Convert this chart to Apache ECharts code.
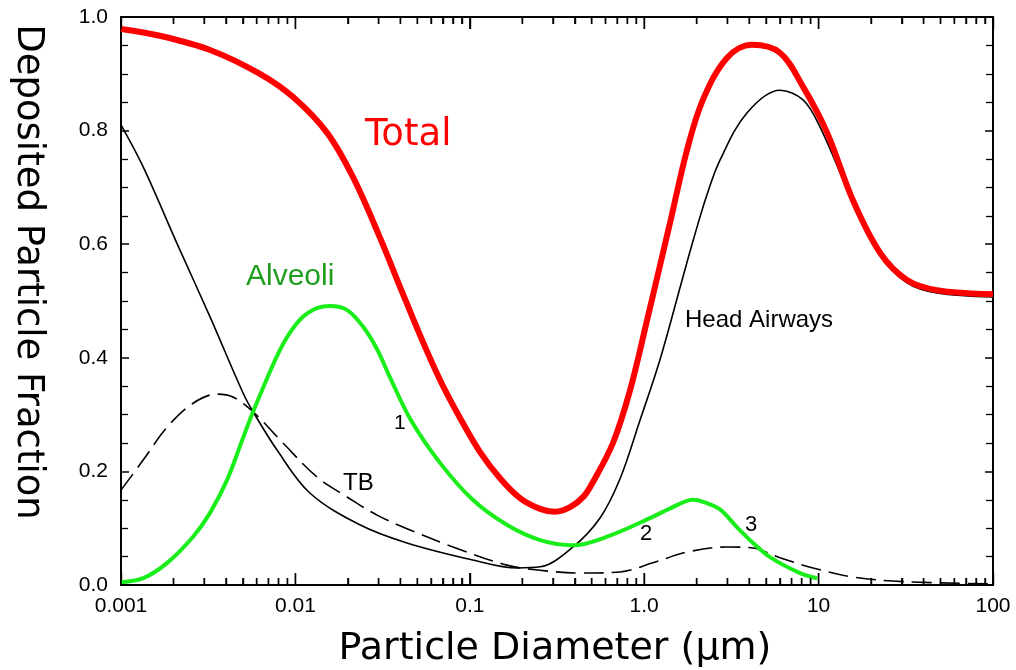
<!DOCTYPE html>
<html>
<head>
<meta charset="utf-8">
<script src="https://cdn.jsdelivr.net/npm/echarts@6/dist/echarts.min.js"></script>
<style>
  html, body { margin: 0; padding: 0; background: #fff; }
  #main { width: 1016px; height: 670px; }
</style>
</head>
<body>
<div id="main"></div>
<script>
var chartDom = document.getElementById('main');
var myChart = echarts.init(chartDom);
var option;

// particle diameter (um) -> deposited fraction
const totalData = [
  [0.001, 0.979], [0.00167, 0.967], [0.00324, 0.942], [0.00626, 0.9],
  [0.0097, 0.859], [0.0152, 0.796], [0.0214, 0.718], [0.0305, 0.612],
  [0.0398, 0.525], [0.0518, 0.44], [0.0675, 0.361], [0.0879, 0.294],
  [0.1145, 0.234], [0.149, 0.188], [0.194, 0.153], [0.253, 0.134],
  [0.308, 0.129], [0.376, 0.137], [0.45, 0.156], [0.508, 0.181],
  [0.662, 0.25], [0.83, 0.343], [1.04, 0.467], [1.41, 0.639],
  [1.76, 0.766], [2.17, 0.854], [2.98, 0.928], [4.15, 0.951],
  [6.0, 0.937], [8.15, 0.877], [11.2, 0.796], [15.7, 0.678],
  [22.5, 0.585], [32.1, 0.537], [47.7, 0.519], [100, 0.512]
];
const headData = [
  [0.001, 0.81], [0.00134, 0.736], [0.00209, 0.602], [0.00324, 0.472],
  [0.00501, 0.338], [0.00572, 0.305], [0.00783, 0.238], [0.0121, 0.162],
  [0.0234, 0.106], [0.0436, 0.074], [0.104, 0.044], [0.187, 0.030],
  [0.253, 0.032], [0.391, 0.067], [0.558, 0.118], [0.727, 0.187],
  [0.946, 0.29], [1.23, 0.396], [1.65, 0.537], [1.91, 0.607],
  [2.29, 0.687], [2.72, 0.748], [3.88, 0.831], [6.0, 0.871],
  [8.15, 0.854], [10.2, 0.806], [15.7, 0.675], [22.5, 0.58],
  [32.1, 0.532], [47.7, 0.514], [100, 0.507]
];
const tbData = [
  [0.001, 0.167], [0.00134, 0.22], [0.00184, 0.278], [0.00259, 0.32],
  [0.00355, 0.336], [0.00438, 0.331], [0.00572, 0.305], [0.00849, 0.25],
  [0.0133, 0.19], [0.0198, 0.155], [0.0294, 0.123], [0.0454, 0.097],
  [0.0801, 0.067], [0.163, 0.035], [0.253, 0.026], [0.429, 0.021],
  [0.727, 0.023], [1.12, 0.039], [1.76, 0.058], [2.98, 0.067],
  [4.21, 0.065], [6.0, 0.048], [9.29, 0.03], [15.7, 0.014],
  [30.5, 0.006], [100, 0.002]
];
const alveoliData = [
  [0.001, 0.005], [0.00134, 0.012], [0.00184, 0.039], [0.00259, 0.085],
  [0.00324, 0.127], [0.00406, 0.185], [0.00501, 0.259], [0.00572, 0.305],
  [0.00816, 0.414], [0.0102, 0.461], [0.0126, 0.484], [0.0158, 0.491],
  [0.0198, 0.484], [0.0244, 0.455], [0.0294, 0.415], [0.0348, 0.366],
  [0.046, 0.29], [0.0675, 0.215], [0.104, 0.15], [0.163, 0.106],
  [0.253, 0.079], [0.391, 0.07], [0.612, 0.085], [1.12, 0.12],
  [1.41, 0.135], [1.91, 0.15], [2.2, 0.146], [2.72, 0.133],
  [3.40, 0.102], [4.21, 0.074], [5.26, 0.049], [7.82, 0.021], [9.8, 0.012]
];
const xTickLabels = ['0.001', '0.01', '0.1', '1.0', '10', '100'];
const majorTicks = [0.001, 0.01, 0.1, 1, 10, 100];
const minorTicks = [];
majorTicks.slice(0, 5).forEach(function (d) {
  for (let k = 2; k <= 9; k++) minorTicks.push(+(d * k).toPrecision(3));
});

const font = 'Liberation Sans, Arial, sans-serif';

function logAxis(pos, tickValues, len, showLine, showLabel) {
  return {
    type: 'log', logBase: 10, min: 0.001, max: 100, position: pos,
    axisLine: { show: showLine, onZero: false, lineStyle: { color: '#000', width: 2 } },
    axisTick: { show: true, inside: true, length: len, customValues: tickValues, lineStyle: { color: '#000', width: 1.4 } },
    axisLabel: {
      show: showLabel, color: '#000', fontSize: 21, fontFamily: font, margin: 11,
      formatter: function (v) { return xTickLabels[Math.round(Math.log10(v)) + 3]; }
    },
    splitLine: { show: false }
  };
}

// same ticks again through the series scale, in case customValues is ignored
function tickSeries(values, atTop, len) {
  return {
    type: 'custom', silent: true, z: 6, clip: false,
    data: values.map(function (v) { return [v, atTop ? 1 : 0]; }),
    renderItem: function (params, api) {
      const p = api.coord([api.value(0), api.value(1)]);
      return {
        type: 'line',
        shape: { x1: p[0], y1: p[1], x2: p[0], y2: atTop ? p[1] + len : p[1] - len },
        style: { stroke: '#000', lineWidth: 1.4 }
      };
    }
  };
}

function yAxis(pos, showLabel) {
  return {
    type: 'value', min: 0, max: 1, interval: 0.2, position: pos,
    axisLine: { show: true, onZero: false, lineStyle: { color: '#000', width: 2 } },
    axisTick: { show: true, inside: true, length: 8, lineStyle: { color: '#000', width: 1.5 } },
    minorTick: { show: true, splitNumber: 4, length: 7, lineStyle: { color: '#000', width: 1.3 } },
    axisLabel: {
      show: showLabel, color: '#000', fontSize: 21, fontFamily: font, margin: 13,
      formatter: function (v) { return v.toFixed(1); }
    },
    splitLine: { show: false }
  };
}

option = {
  animation: false,
  backgroundColor: '#fff',
  grid: { left: 121, right: 23, top: 17, bottom: 85, outerBoundsMode: 'none' },
  xAxis: [
    logAxis('bottom', majorTicks, 12, true, true),
    logAxis('top', majorTicks, 12, true, false),
    logAxis('bottom', minorTicks, 7, false, false),
    logAxis('top', minorTicks, 7, false, false)
  ],
  yAxis: [yAxis('left', true), yAxis('right', false)],
  series: [
    tickSeries(majorTicks, false, 12),
    tickSeries(minorTicks, false, 7),
    tickSeries(majorTicks, true, 12),
    tickSeries(minorTicks, true, 7),
    {
      name: 'Head Airways', type: 'line', data: headData, smooth: 0.35, showSymbol: false, z: 3,
      lineStyle: { color: '#000', width: 1.6 }
    },
    {
      name: 'TB', type: 'line', data: tbData, smooth: 0.35, showSymbol: false, z: 3,
      lineStyle: { color: '#000', width: 1.6, type: [20, 8] }
    },
    {
      name: 'Alveoli', type: 'line', data: alveoliData, smooth: 0.35, showSymbol: false, z: 4,
      lineStyle: { color: '#1aee1a', width: 4 }
    },
    {
      name: 'Total', type: 'line', data: totalData, smooth: 0.35, showSymbol: false, z: 5,
      lineStyle: { color: '#ff0000', width: 6 }
    }
  ],
  graphic: [
    { type: 'text', left: 365, top: 117, style: { text: 'Total', fill: '#ff0000', font: '37px "DejaVu Sans", sans-serif' } },
    { type: 'text', left: 246, top: 262, style: { text: 'Alveoli', fill: '#1f9e1f', font: '30px ' + font } },
    { type: 'text', left: 685, top: 308, style: { text: 'Head Airways', fill: '#000', font: '24px ' + font } },
    { type: 'text', left: 343, top: 471, style: { text: 'TB', fill: '#000', font: '24px ' + font } },
    { type: 'text', left: 394, top: 413, style: { text: '1', fill: '#000', font: '21px ' + font } },
    { type: 'text', left: 640, top: 523, style: { text: '2', fill: '#000', font: '22px ' + font } },
    { type: 'text', left: 745, top: 514, style: { text: '3', fill: '#000', font: '22px ' + font } },
    {
      type: 'text', x: 28, y: 272, rotation: -Math.PI / 2,
      style: { text: 'Deposited Particle Fraction', fill: '#000', font: '37px "DejaVu Sans", sans-serif', align: 'center', verticalAlign: 'middle' }
    },
    {
      type: 'text', x: 555, y: 649,
      style: { text: 'Particle Diameter (μm)', fill: '#000', font: '38px "DejaVu Sans", sans-serif', align: 'center', verticalAlign: 'middle' }
    }
  ]
};

option && myChart.setOption(option);
</script>
</body>
</html>
